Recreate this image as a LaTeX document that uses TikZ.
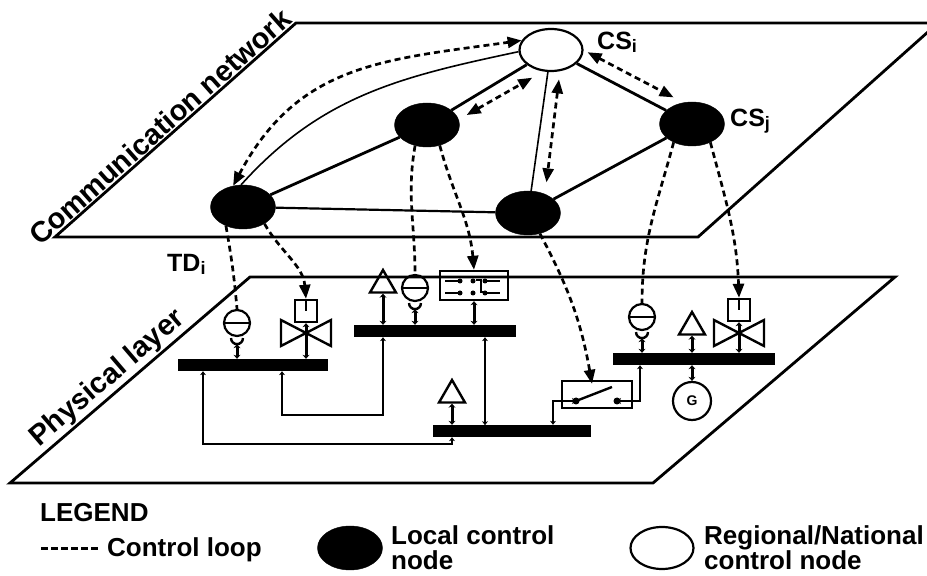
\documentclass[tikz,border=0pt]{standalone}
\usepackage{fontspec}
\setmainfont{Liberation Sans}
\usetikzlibrary{shapes.geometric,arrows.meta,positioning,calc}
\begin{document}
\begin{tikzpicture}[x=1pt,y=1pt,>={Triangle[length=14pt,width=11pt]},
	lcn/.style={draw,shape=ellipse,fill=black,minimum width=65pt,minimum height=44pt,inner sep=0pt},
	rcn/.style={draw,shape=ellipse,fill=white,line width=2.2pt,minimum width=63pt,minimum height=42pt,inner sep=0pt},
	plane/.style={line width=2.8pt,line join=miter},
	layer/.style={font=\fontsize{29}{29}\selectfont\bfseries,inner sep=2pt},
	lbl/.style={font=\fontsize{25}{25}\selectfont\bfseries,inner sep=0pt},
	leg/.style={font=\fontsize{26}{26}\selectfont\bfseries,inner sep=0pt},
	thk/.style={line width=2.8pt},
	med/.style={line width=2.2pt},
	thn/.style={line width=1.6pt},
	ctrl/.style={line width=2.7pt,dash pattern=on 6pt off 4pt},
	bar/.style={shape=rectangle,fill=black,minimum height=12pt,inner sep=0pt},
	sens/.style={draw,shape=circle,line width=2.2pt,minimum size=26pt,inner sep=0pt,
		path picture={\draw[line width=2.2pt] (path picture bounding box.west) -- (path picture bounding box.east);}},
	act/.style={draw,shape=rectangle,line width=2.4pt,minimum size=22pt,inner sep=0pt},
	tri/.style={draw,regular polygon,regular polygon sides=3,line width=2.4pt,minimum size=30pt,inner sep=0pt},
	panel/.style={draw,shape=rectangle,line width=2.4pt,inner sep=0pt},
	pipe/.style={line width=2.4pt,line join=miter},
	stem/.style={line width=3pt,arrows={Stealth[length=4pt,width=7pt]-Stealth[length=4pt,width=7pt]}},
	link/.style={line width=2.2pt,arrows={Stealth[length=4pt,width=6pt]-Stealth[length=4pt,width=6pt]}}]
\useasboundingbox (0,0) rectangle (927,576);
\clip (0,0) rectangle (927,576);
\draw[plane] (55,339) -- (698,339) -- (938,553) -- (296,553) -- cycle;
\draw[plane] (10,93) -- (653,93) -- (895,299) -- (250,299) -- cycle;
\path (55,339) -- (296,553) node[layer,pos=.47,sloped,above] (cnet) {Communication network};
\path (10,93) -- (250,299) node[layer,pos=.45,sloped,above] (phys) {Physical layer};
\node[rcn] (csi) at (551,526) {};
\node[lcn] (mid) at (427,451) {};
\node[lcn] (csj) at (692,452) {};
\node[lcn] (tdi) at (243,369) {};
\node[lcn] (bot) at (528,363) {};
\node[lbl,anchor=base west] (lcsi) at (597,526) {CS\raisebox{-3pt}{\fontsize{18}{18}\selectfont i}};
\node[lbl,anchor=base west] (lcsj) at (730,449) {CS\raisebox{-3pt}{\fontsize{18}{18}\selectfont j}};
\node[lbl,anchor=base west] (ltdi) at (167,304) {TD\raisebox{-3pt}{\fontsize{18}{18}\selectfont i}};
\draw[thk] (tdi) -- (mid);
\draw[thk] (mid) -- (csi);
\draw[thk] (csi) -- (csj);
\draw[thk] (bot) -- (csj);
\draw[med] (tdi) -- (bot);
\draw[thn] (csi) -- (bot);
\draw[thn] (tdi.95) to[out=48,in=192] (csi.183);
\draw[ctrl,<->] (tdi.115) to[out=62,in=188,looseness=1.1] (csi.162);
\draw[ctrl,<->] ($(mid)!.27!(csi)!12pt!-90:(csi)$) -- ($(mid)!.79!(csi)!14pt!-90:(csi)$);
\draw[ctrl,<->] ($(csi)!.17!(bot)!12pt!90:(bot)$) -- ($(csi)!.80!(bot)!14pt!90:(bot)$);
\draw[ctrl,<->] ($(csi)!.21!(csj)!15pt!90:(csj)$) -- ($(csi)!.82!(csj)!15pt!90:(csj)$);
\node[bar,minimum width=150pt] (bar1) at (253,211) {};
\node[bar,minimum width=162pt] (bar2) at (435,245) {};
\node[bar,minimum width=158pt] (bar3) at (512,145) {};
\node[bar,minimum width=162pt] (bar4) at (694,217) {};
\node[sens] (s1) at (237,253) {};
\node[sens] (s2) at (415,288) {};
\node[sens] (s3) at (642,259) {};
\draw[pipe] ([xshift=-6pt,yshift=-1pt]s1.south) arc[start angle=180,end angle=360,radius=6pt];
\draw[pipe] ([xshift=-6pt,yshift=-1pt]s2.south) arc[start angle=180,end angle=360,radius=6pt];
\draw[pipe] ([xshift=-6pt,yshift=-1pt]s3.south) arc[start angle=180,end angle=360,radius=6pt];
\draw[stem] ([yshift=-7pt]s1.south) -- (s1.south |- bar1.north);
\draw[stem] ([yshift=-7pt]s2.south) -- (s2.south |- bar2.north);
\draw[stem] ([yshift=-7pt]s3.south) -- (s3.south |- bar4.north);
\node[act] (v1) at (306,265) {};
\node[act] (v2) at (739,266) {};
\coordinate (v1c) at (306,243);
\coordinate (v2c) at (739,243);
\draw[pipe] (v1c) -- ++(-25,13) -- ++(0,-26) -- cycle (v1c) -- ++(25,13) -- ++(0,-26) -- cycle;
\draw[pipe] (v2c) -- ++(-25,13) -- ++(0,-26) -- cycle (v2c) -- ++(25,13) -- ++(0,-26) -- cycle;
\draw[pipe] (v1.north) -- ++(0,-12);
\draw[pipe] (v2.north) -- ++(0,-12);
\draw[stem] (v1.south) -- (v1.south |- bar1.north);
\draw[stem] (v2.south) -- (v2.south |- bar4.north);
\node[tri] (t1) at (383,291) {};
\node[tri] (t2) at (452,181) {};
\node[tri] (t3) at (692,249) {};
\draw[stem] (t1.side 2) -- (t1.side 2 |- bar2.north);
\draw[stem] (t2.side 2) -- (t2.side 2 |- bar3.north);
\draw[stem] (t3.side 2) -- (t3.side 2 |- bar4.north);
\node[panel,minimum width=68pt,minimum height=29pt] (bp) at (474,290.5) {};
\draw[pipe] (445,295) -- (460,295) (485,295) -- (500,295) (445,283) -- (460,283) (485,283) -- (500,283);
\draw[pipe] (476,296) -- (481,296) -- (481,284) -- (485,284);
\fill (460,295) circle (2.5pt) (473,295) circle (2.5pt) (485,295) circle (2.5pt);
\fill (460,283) circle (2.5pt) (473,283) circle (2.5pt) (485,283) circle (2.5pt);
\draw[stem] (bp.south) -- (bp.south |- bar2.north);
\node[panel,minimum width=70pt,minimum height=27pt] (sw) at (597,181.5) {};
\coordinate (swl) at (576,175);
\coordinate (swr) at (617,175);
\draw[link] ([xshift=41pt]bar3.north) |- (swl);
\draw[link] (swr) -| ([xshift=-54pt]bar4.south);
\draw[pipe] (swl) -- (612,189);
\fill (swl) circle (3.5pt) (swr) circle (3.5pt);
\node[draw,shape=circle,line width=2.2pt,minimum size=38pt,inner sep=0pt,font=\fontsize{14}{14}\selectfont\bfseries] (gen) at (692,175) {G};
\draw[stem] (gen.north) -- (gen.north |- bar4.south);
\draw[link] ([xshift=-50pt]bar1.south) -- ++(0,-73) -| ([xshift=-60pt]bar3.south);
\draw[link] ([xshift=29pt]bar1.south) -- ++(0,-44) -| ([xshift=-52pt]bar2.south);
\draw[link] ([xshift=50pt]bar2.south) -- ++(0,-88);
\draw[ctrl] (tdi.228) to[out=-80,in=95] (s1.north);
\draw[ctrl,->] (tdi.322) to[out=-60,in=95] (v1.north);
\draw[ctrl] (mid.240) to[out=-100,in=90] (s2.north);
\draw[ctrl,->] (mid.302) to[out=-75,in=95] (bp.north);
\draw[ctrl,->] (bot.300) to[out=-62,in=100] ([xshift=-5pt,yshift=-4pt]sw.north);
\draw[ctrl] (csj.225) to[out=-105,in=90] (s3.north);
\draw[ctrl,->] (csj.315) to[out=-75,in=92] (v2.north);
\node[leg,anchor=base west] (legt) at (40,54) {LEGEND};
\coordinate (lga) at (41,27);
\coordinate (lgb) at (101,27);
\draw[line width=3pt,dash pattern=on 7pt off 3pt] (lga) -- (lgb);
\node[leg,anchor=base west] (lgc) at (107,19) {Control loop};
\node[lcn] (lgl) at (350,28) {};
\node[leg,anchor=base west] (lgl1) at (391,31) {Local control};
\node[leg,anchor=base west] (lgl2) at (391,6) {node};
\node[rcn] (lgr) at (662,28) {};
\node[leg,anchor=base west] (lgr1) at (704,31) {Regional/National};
\node[leg,anchor=base west] (lgr2) at (704,6) {control node};
\end{tikzpicture}
\end{document}
